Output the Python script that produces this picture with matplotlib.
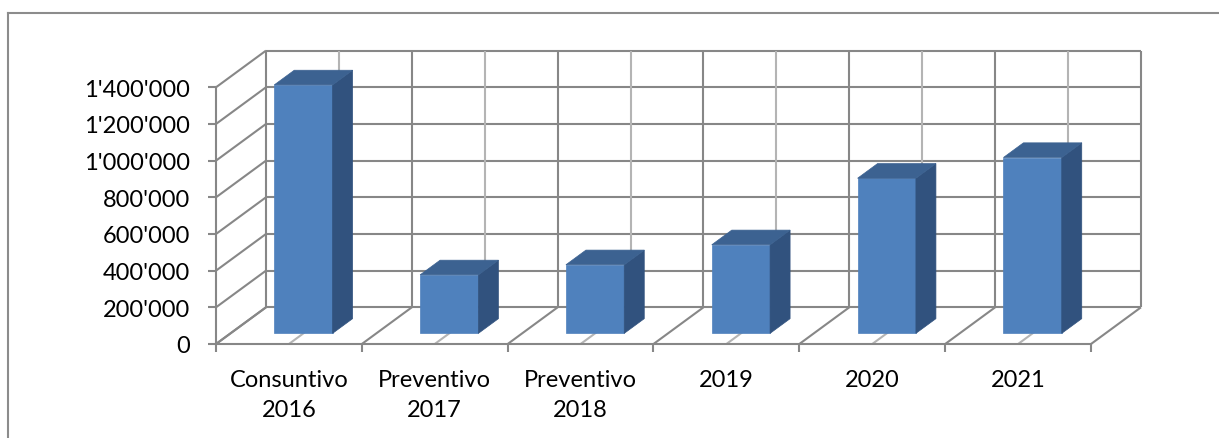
import matplotlib
matplotlib.use("Agg")
import matplotlib.pyplot as plt
from matplotlib.patches import Polygon
from matplotlib.lines import Line2D
from matplotlib.transforms import IdentityTransform
from matplotlib.ticker import FuncFormatter, FixedLocator

# ---------------- data ----------------
categories = ["Consuntivo\n2016", "Preventivo\n2017", "Preventivo\n2018", "2019", "2020", "2021"]
values = [1355000, 319000, 374000, 483000, 846000, 959000]
y_ticks = [0, 200000, 400000, 600000, 800000, 1000000, 1200000, 1400000]

# ---------------- style ----------------
W, H = 1219, 439
DX, DY = 50.0, 36.7          # depth offset of the back wall (pixels)
BAR_D0, BAR_D1 = 0.29, 0.69  # bar depth range (fraction of depth)
BAR_W = 0.40                 # bar width (fraction of category)
C_FRONT, C_TOP, C_SIDE = "#4F81BD", "#3C6291", "#31527E"
C_GRID, C_GRID_L = "#878787", "#B4B4B4"
LW = 1.5
FONT = "Lato"
FS = 17

plt.rcParams['font.family'] = [FONT, 'DejaVu Sans']

fig = plt.figure(figsize=(W / 100, H / 100), dpi=100)
ax = fig.add_axes([216 / W, (H - 345) / H, 875 / W, 256.7 / H])
n = len(categories)
ax.set_xlim(-0.5, n - 0.5)
ax.set_ylim(0, y_ticks[-1])
ax.patch.set_visible(False)

ident = IdentityTransform()


def P(x, v, d):
    px, py = ax.transData.transform((x, v))
    return px + d * DX, py + d * DY


def line(p, q, color=C_GRID, lw=LW, z=1):
    ax.add_line(Line2D([p[0], q[0]], [p[1], q[1]], transform=ident, color=color,
                       lw=lw, zorder=z, clip_on=False, solid_capstyle='butt'))


x0, x1 = -0.5, n - 0.5
vmax = y_ticks[-1]
# back wall horizontal grid lines and left wall lines
for v in y_ticks:
    line(P(x0, v, 1), P(x1, v, 1))
    line(P(x0, v, 0), P(x0, v, 1))
# back wall verticals + floor diagonals
for i in range(n + 1):
    xb = i - 0.5
    line(P(xb, 0, 1), P(xb, vmax, 1))
    line(P(xb, 0, 0), P(xb, 0, 1))
for i in range(n):
    line(P(i, 0, 1), P(i, vmax, 1), color=C_GRID_L)
    line(P(i, 0, 0), P(i, 0, 1), color=C_GRID_L)

# bars
for i, v in enumerate(values):
    xl, xr = i - BAR_W / 2, i + BAR_W / 2
    front = [P(xl, 0, BAR_D0), P(xr, 0, BAR_D0), P(xr, v, BAR_D0), P(xl, v, BAR_D0)]
    side = [P(xr, 0, BAR_D0), P(xr, 0, BAR_D1), P(xr, v, BAR_D1), P(xr, v, BAR_D0)]
    top = [P(xl, v, BAR_D0), P(xr, v, BAR_D0), P(xr, v, BAR_D1), P(xl, v, BAR_D1)]
    for pts, c in ((front, C_FRONT), (side, C_SIDE), (top, C_TOP)):
        ax.add_patch(Polygon(pts, closed=True, transform=ident, facecolor=c,
                             edgecolor=c, lw=0.5, zorder=3, clip_on=False))

# axes: front vertical axis and front floor edge
for s in ("top", "right"):
    ax.spines[s].set_visible(False)
for s in ("left", "bottom"):
    ax.spines[s].set_color(C_GRID)
    ax.spines[s].set_linewidth(LW)

ax.yaxis.set_major_locator(FixedLocator(y_ticks))
ax.yaxis.set_major_formatter(FuncFormatter(lambda v, p: f"{int(round(v)):,}".replace(",", "'")))
ax.tick_params(axis='y', length=5.8, width=LW, color=C_GRID, pad=13, labelsize=FS, labelcolor="black")

ax.xaxis.set_major_locator(FixedLocator([i - 0.5 for i in range(n + 1)]))
ax.xaxis.set_major_formatter(FuncFormatter(lambda v, p: ""))
ax.xaxis.set_minor_locator(FixedLocator(list(range(n))))
ax.set_xticklabels(categories, minor=True)
ax.tick_params(axis='x', which='major', length=5.8, width=LW, color=C_GRID)
ax.tick_params(axis='x', which='minor', length=0, pad=18, labelsize=FS, labelcolor="black")
for lbl in ax.get_xticklabels(minor=True):
    lbl.set_linespacing(1.55)

# outer chart frame (top and left edges visible)
fig.add_artist(Line2D([8.3 / W, 8.3 / W], [0, 1 - 14.3 / H], transform=fig.transFigure,
                      color="#8C8C8C", lw=1.5))
fig.add_artist(Line2D([8.3 / W, 1.0], [1 - 14.3 / H, 1 - 14.3 / H], transform=fig.transFigure,
                      color="#8C8C8C", lw=1.5))

fig.savefig("out.png", dpi=100)
